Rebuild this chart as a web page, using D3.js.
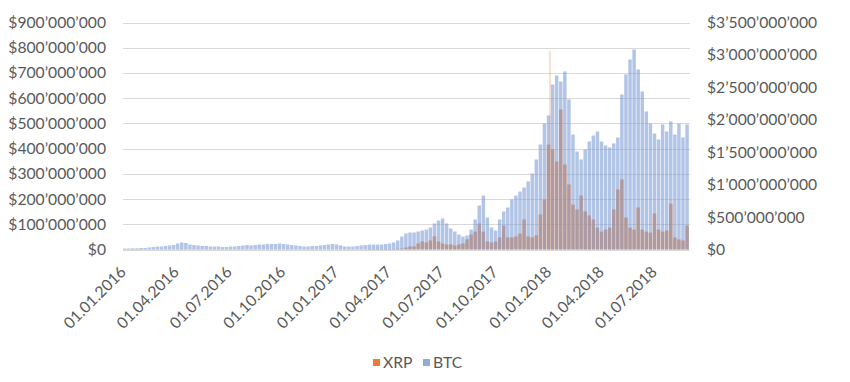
<!DOCTYPE html>
<html>
<head>
<meta charset="utf-8">
<script src="https://cdn.jsdelivr.net/npm/d3@7"></script>
<style>
  body { margin: 0; background: #fff; }
  text { font-family: Lato, "Open Sans", sans-serif; fill: #595959; }
</style>
</head>
<body>
<div id="chart"></div>
<script>
////////////////////////////////////////////////////////////
//////////////////////// Data //////////////////////////////
////////////////////////////////////////////////////////////

// one bar per week, first week starting 01.01.2016, values in millions of USD
var firstWeek = "2016-01-01",
	lastDay = "2018-09-01";

// XRP trading volume (left axis)
var xrpWeekly = [
	1, 1, 1, 1, 1, 1, 1, 1, 1, 1, 1, 1, 1, 1, 1, 1, 1, 1, 1, 1,
	1, 1, 1, 1, 1, 1, 1, 1, 1, 1, 1, 1, 1, 1, 1, 1, 1, 1, 1, 1,
	1, 1, 1, 1, 1, 1, 1, 1, 1, 1, 1, 1, 1, 1, 1, 1, 1, 1, 1, 1,
	2, 2, 2, 2, 2, 2, 2, 3, 4, 8, 12, 12, 24, 32, 28, 36, 52, 32, 24, 20,
	20, 16, 20, 24, 40, 59, 71, 103, 71, 32, 28, 32, 48, 95, 48, 48, 52, 63, 119, 52,
	48, 56, 139, 198, 416, 397, 349, 555, 337, 258, 178, 159, 214, 151, 135, 119, 87, 71, 79, 87,
	159, 238, 278, 127, 87, 79, 167, 79, 71, 67, 143, 79, 71, 75, 182, 48, 40, 36, 95, 103
];

// single days that stand out above the weekly bars
var xrpSpikeDays = ["2018-01-03"];
var xrpSpikeValues = [788];

// BTC trading volume (right axis)
var btcWeekly = [
	15, 15, 18, 18, 23, 23, 31, 39, 46, 46, 54, 62, 69, 93, 108, 100, 77, 69, 62, 54,
	54, 46, 46, 46, 39, 39, 46, 46, 54, 62, 69, 62, 69, 77, 77, 85, 85, 85, 93, 85,
	77, 69, 62, 54, 46, 46, 54, 54, 62, 69, 77, 85, 77, 62, 46, 46, 46, 54, 62, 69,
	77, 77, 77, 77, 85, 93, 108, 139, 200, 247, 262, 262, 278, 293, 308, 339, 401, 447, 478, 401,
	324, 278, 231, 200, 216, 308, 463, 678, 833, 493, 339, 293, 463, 586, 648, 771, 833, 894, 956, 1049,
	1172, 1388, 1619, 1943, 2066, 2544, 2683, 2591, 2745, 2313, 1773, 1511, 1388, 1542, 1665, 1758, 1820, 1665, 1604, 1573,
	1635, 1727, 2390, 2699, 2930, 3084, 2776, 2436, 2128, 1943, 1789, 1696, 1928, 1820, 1974, 1773, 1943, 1727, 1928, 1881
];

var xTickLabels = ["01.01.2016", "01.04.2016", "01.07.2016", "01.10.2016", "01.01.2017", "01.04.2017",
	"01.07.2017", "01.10.2017", "01.01.2018", "01.04.2018", "01.07.2018"];

var seriesNames = ["XRP", "BTC"],
	seriesColors = ["#ED7D31", "#7F9FD6"];

////////////////////////////////////////////////////////////
//////////////////////// Set-Up ////////////////////////////
////////////////////////////////////////////////////////////

var width = 850, height = 382;
var plot = { left: 123, right: 690, top: 22.5, bottom: 249.5 };
var fontSize = "15.7px";

var parseDay = d3.utcParse("%Y-%m-%d"),
	parseLabel = d3.utcParse("%d.%m.%Y");

var start = parseDay(firstWeek),
	end = parseDay(lastDay);

var weeks = xrpWeekly.map(function(d, i) { return d3.utcDay.offset(start, 7 * i); });

// swiss style number format: $3’500’000’000
var fmt = d3.formatLocale({ decimal: ".", thousands: "\u2019", grouping: [3], currency: ["$", ""] }).format("$,.0f");

var x = d3.scaleUtc().domain([start, end]).range([plot.left, plot.right]);
var yLeft = d3.scaleLinear().domain([0, 900e6]).range([plot.bottom, plot.top]);
var yRight = d3.scaleLinear().domain([0, 3500e6]).range([plot.bottom, plot.top]);

var svg = d3.select("#chart").append("svg")
	.attr("width", width)
	.attr("height", height);

////////////////////////////////////////////////////////////
//////////////////////// Grid //////////////////////////////
////////////////////////////////////////////////////////////

svg.append("g").selectAll("line")
	.data(yLeft.ticks(9))
	.enter().append("line")
	.attr("x1", plot.left).attr("x2", plot.right)
	.attr("y1", function(d) { return Math.round(yLeft(d)) + 0.5; })
	.attr("y2", function(d) { return Math.round(yLeft(d)) + 0.5; })
	.attr("stroke", "#d9d9d9")
	.attr("stroke-width", 1);

////////////////////////////////////////////////////////////
//////////////////////// Bars //////////////////////////////
////////////////////////////////////////////////////////////

function barX(d) { return x(d); }
function barW(d) {
	var next = d3.utcDay.offset(d, 7);
	if (next > end) next = end;
	return Math.max(0, x(next) - x(d) - 0.6);
}

// XRP underneath
svg.append("g").selectAll("rect")
	.data(weeks)
	.enter().append("rect")
	.attr("x", barX)
	.attr("width", barW)
	.attr("y", function(d, i) { return yLeft(xrpWeekly[i] * 1e6); })
	.attr("height", function(d, i) { return plot.bottom - yLeft(xrpWeekly[i] * 1e6); })
	.attr("fill", seriesColors[0])
	.attr("fill-opacity", 0.8);

svg.append("g").selectAll("rect")
	.data(xrpSpikeDays)
	.enter().append("rect")
	.attr("x", function(d) { return x(parseDay(d)); })
	.attr("width", function(d) { var t = parseDay(d); return x(d3.utcDay.offset(t, 1)) - x(t); })
	.attr("y", function(d, i) { return yLeft(xrpSpikeValues[i] * 1e6); })
	.attr("height", function(d, i) { return plot.bottom - yLeft(xrpSpikeValues[i] * 1e6); })
	.attr("fill", seriesColors[0])
	.attr("fill-opacity", 0.8);

// BTC on top, see-through
svg.append("g").selectAll("rect")
	.data(weeks)
	.enter().append("rect")
	.attr("x", barX)
	.attr("width", barW)
	.attr("y", function(d, i) { return yRight(btcWeekly[i] * 1e6); })
	.attr("height", function(d, i) { return plot.bottom - yRight(btcWeekly[i] * 1e6); })
	.attr("fill", seriesColors[1])
	.attr("fill-opacity", 0.6);

////////////////////////////////////////////////////////////
//////////////////////// Axes //////////////////////////////
////////////////////////////////////////////////////////////

svg.append("g").selectAll("text")
	.data(yLeft.ticks(9))
	.enter().append("text")
	.attr("x", 106)
	.attr("y", function(d) { return yLeft(d); })
	.attr("dy", "0.35em")
	.attr("text-anchor", "end")
	.style("font-size", fontSize)
	.text(fmt);

svg.append("g").selectAll("text")
	.data(d3.range(0, 3500e6 + 1, 500e6))
	.enter().append("text")
	.attr("x", 707)
	.attr("y", function(d) { return yRight(d); })
	.attr("dy", "0.35em")
	.attr("text-anchor", "start")
	.style("font-size", fontSize)
	.text(fmt);

svg.append("g").selectAll("text")
	.data(xTickLabels)
	.enter().append("text")
	.attr("transform", function(d) { return "translate(" + (x(parseLabel(d)) + 4) + ",273) rotate(-45)"; })
	.attr("text-anchor", "end")
	.style("font-size", fontSize)
	.text(function(d) { return d; });

////////////////////////////////////////////////////////////
//////////////////////// Legend ////////////////////////////
////////////////////////////////////////////////////////////

var legendX = [373, 423];
var legend = svg.append("g").selectAll("g")
	.data(seriesNames)
	.enter().append("g")
	.attr("transform", function(d, i) { return "translate(" + legendX[i] + ",359)"; });

legend.append("rect")
	.attr("width", 7).attr("height", 7)
	.attr("fill", function(d, i) { return seriesColors[i]; })
	.attr("fill-opacity", function(d, i) { return i === 1 ? 0.85 : 1; });

legend.append("text")
	.attr("x", 10)
	.attr("y", 3.5)
	.attr("dy", "0.35em")
	.style("font-size", fontSize)
	.text(function(d) { return d; });
</script>
</body>
</html>
